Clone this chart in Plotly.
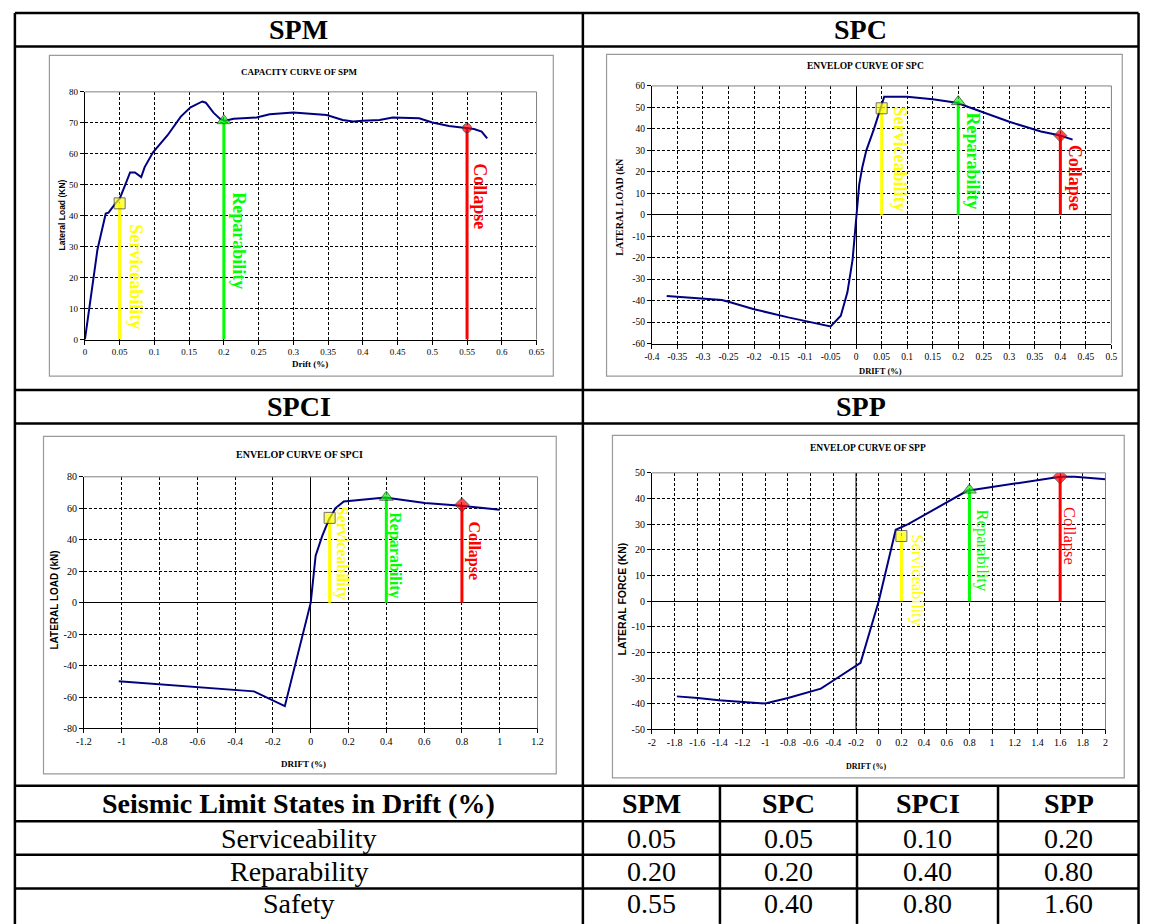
import plotly.graph_objects as go

W, H = 1149, 924


def px(x):
    return x / W


def py(y):
    return 1 - y / H


# ---------------- data ----------------
specimens = ["SPM", "SPC", "SPCI", "SPP"]
limit_states = ["Serviceability", "Reparability", "Safety"]
serviceability = [0.05, 0.05, 0.10, 0.20]
reparability = [0.20, 0.20, 0.40, 0.80]
safety = [0.55, 0.40, 0.80, 1.60]

spm_drift = [0, 0.006, 0.012, 0.018, 0.03, 0.034, 0.044, 0.05, 0.058, 0.065, 0.072, 0.081,
             0.086, 0.098, 0.119, 0.138, 0.152, 0.169, 0.174, 0.185, 0.195, 0.202, 0.214,
             0.247, 0.266, 0.294, 0.3, 0.348, 0.371, 0.386, 0.4, 0.424, 0.443, 0.481, 0.5,
             0.524, 0.547, 0.56, 0.571, 0.579]
spm_load = [0, 9.6, 20, 29, 40.7, 41, 44, 45.5, 50, 54, 54, 52.5,
            55.7, 60.5, 66, 72, 75, 76.9, 76.5, 73.3, 71.2, 70.7, 71.3,
            71.7, 72.8, 73.3, 73.3, 72.5, 70.9, 70.4, 70.7, 70.9, 71.7, 71.5, 70.1,
            69, 68.5, 68, 67.2, 65]
spm_limit_load = [44, 70.7, 68.3]

spc_drift = [-0.371, -0.3, -0.263, -0.25, -0.2, -0.133, -0.07, -0.05, -0.03, -0.017, -0.007,
             0, 0.006, 0.012, 0.02, 0.035, 0.047, 0.055, 0.1, 0.15, 0.197, 0.236, 0.3, 0.362,
             0.4, 0.424]
spc_load = [-37.8, -39, -39.7, -40.5, -44, -47.8, -51, -52, -47, -36, -21,
            -1, 14, 22, 30, 40, 49.5, 55, 55, 53.8, 52.2, 48.7, 43.3, 38.8,
            36.9, 35]
spc_limit_load = [49.6, 52.7, 36.9]

spci_drift = [-1.016, -0.3, -0.137, 0, 0.026, 0.061, 0.096, 0.131, 0.175, 0.254, 0.394,
              0.604, 0.796, 1.0]
spci_load = [-50, -56.4, -65.8, 0, 29.9, 42.4, 52.8, 60, 64.3, 65.3, 66.8,
             63.3, 61.6, 59]
spci_limit_load = [53.9, 67, 62.2]

spp_drift = [-1.78, -1.595, -1.41, -1.21, -1.0, -0.8, -0.6, -0.51, -0.4, -0.16, 0, 0.15,
             0.26, 0.78, 0.84, 1.18, 1.44, 1.6, 1.73, 2.0]
spp_load = [-37.1, -37.7, -38.6, -39.3, -39.9, -37.7, -35.4, -34.1, -30.9, -24, 0, 27.8,
            30, 43, 43.4, 45.6, 47.5, 48.5, 48.5, 47.5]
spp_limit_load = [25.4, 43.3, 48.5]

spm_xticks = [0, 0.05, 0.1, 0.15, 0.2, 0.25, 0.3, 0.35, 0.4, 0.45, 0.5, 0.55, 0.6, 0.65]
spm_yticks = [0, 10, 20, 30, 40, 50, 60, 70, 80]
spc_xticks = [-0.4, -0.35, -0.3, -0.25, -0.2, -0.15, -0.1, -0.05, 0, 0.05, 0.1, 0.15,
              0.2, 0.25, 0.3, 0.35, 0.4, 0.45, 0.5]
spc_yticks = [-60, -50, -40, -30, -20, -10, 0, 10, 20, 30, 40, 50, 60]
spci_xticks = [-1.2, -1, -0.8, -0.6, -0.4, -0.2, 0, 0.2, 0.4, 0.6, 0.8, 1, 1.2]
spci_yticks = [-80, -60, -40, -20, 0, 20, 40, 60, 80]
spp_xticks = [-2, -1.8, -1.6, -1.4, -1.2, -1, -0.8, -0.6, -0.4, -0.2, 0, 0.2, 0.4, 0.6,
              0.8, 1, 1.2, 1.4, 1.6, 1.8, 2]
spp_yticks = [-50, -40, -30, -20, -10, 0, 10, 20, 30, 40, 50]

limit_labels = ["Serviceability", "Reparability", "Collapse"]
limit_colors = ["#FFFF00", "#00FF00", "#FF0000"]

SERIF = "Liberation Serif"
SANS = "Liberation Sans"


def fmt(v):
    return f"{v:g}"


charts = [
    dict(drift=spm_drift, load=spm_load, lim_load=spm_limit_load, idx=0,
         xt=spm_xticks, yt=spm_yticks, xbox=(78, 536), ybox=(87, 338),
         frame=(42, 50, 553, 375), zero=False, vline=None, fs=9,
         collapse_sym="circle", collapse_size=9,
         title="CAPACITY CURVE OF SPM", title_pos=(296, 67), title_fs=9,
         ytitle="Lateral Load (KN)", ytitle_pos=(55, 212), ytitle_font=(SANS, 8.5),
         xtitle="Drift (%)", xtitle_pos=(306, 363), xtitle_fs=9,
         lbl_pos=[(129, 274), (234, 238), (478, 193)], lbl_fs=18, lbl_bold=True),
    dict(drift=spc_drift, load=spc_load, lim_load=spc_limit_load, idx=1,
         xt=spc_xticks, yt=spc_yticks, xbox=(653, 1119), ybox=(81, 342),
         frame=(607, 49, 1130, 375), zero=True, vline=None, fs=9.5,
         collapse_sym="diamond", collapse_size=10,
         title="ENVELOP CURVE OF SPC", title_pos=(870, 61), title_fs=9.5,
         ytitle="LATERAL LOAD (kN", ytitle_pos=(621, 203), ytitle_font=(SERIF, 10),
         xtitle="DRIFT (%)", xtitle_pos=(885, 370), xtitle_fs=8.5,
         lbl_pos=[(905, 155), (979, 157), (1082, 174)], lbl_fs=18, lbl_bold=True),
    dict(drift=spci_drift, load=spci_load, lim_load=spci_limit_load, idx=2,
         xt=spci_xticks, yt=spci_yticks, xbox=(77, 537), ybox=(477, 732),
         frame=(36, 436, 556, 778), zero=True, vline=None, fs=10,
         collapse_sym="diamond", collapse_size=11,
         title="ENVELOP CURVE OF SPCI", title_pos=(296, 454), title_fs=10,
         ytitle="LATERAL LOAD (kN)", ytitle_pos=(47, 602), ytitle_font=(SANS, 10),
         xtitle="DRIFT (%)", xtitle_pos=(300, 768), xtitle_fs=9,
         lbl_pos=[(339, 554), (393, 556), (473, 552)], lbl_fs=16, lbl_bold=True),
    dict(drift=spp_drift, load=spp_load, lim_load=spp_limit_load, idx=3,
         xt=spp_xticks, yt=spp_yticks, xbox=(653, 1113), ybox=(473, 733),
         frame=(613, 435, 1132, 782), zero=False, vline=-0.2, fs=10,
         collapse_sym="diamond", collapse_size=11,
         title="ENVELOP CURVE OF SPP", title_pos=(872, 448), title_fs=9.5,
         ytitle="LATERAL FORCE (KN)", ytitle_pos=(623, 601), ytitle_font=(SANS, 10.5),
         xtitle="DRIFT (%)", xtitle_pos=(870, 771), xtitle_fs=8,
         lbl_pos=[(922, 582), (988, 552), (1077, 537)], lbl_fs=16.5, lbl_bold=False),
]

fig = go.Figure()
shapes = []
annotations = []
layout_axes = {}

for i, c in enumerate(charts):
    n = "" if i == 0 else str(i + 1)
    xa, ya = "x" + n, "y" + n
    k = c["idx"]
    drifts = [serviceability[k], reparability[k], safety[k]]

    # frame of the Excel chart
    fx0, fy0, fx1, fy1 = c["frame"]
    shapes.append(dict(type="rect", xref="paper", yref="paper",
                       x0=px(fx0), x1=px(fx1), y0=py(fy1), y1=py(fy0),
                       fillcolor="white", line=dict(color="#9a9a9a", width=1.2),
                       layer="below"))
    # plot area border (gray) top/right
    x0p, x1p = px(c["xbox"][0]), px(c["xbox"][1])
    y0p, y1p = py(c["ybox"][1]), py(c["ybox"][0])
    shapes.append(dict(type="line", xref="paper", yref="paper", x0=x0p, x1=x1p,
                       y0=y1p, y1=y1p, line=dict(color="#808080", width=1), layer="above"))
    shapes.append(dict(type="line", xref="paper", yref="paper", x0=x1p, x1=x1p,
                       y0=y0p, y1=y1p, line=dict(color="#808080", width=1), layer="above"))

    # limit-state vertical lines
    for d, ld, col in zip(drifts, c["lim_load"], limit_colors):
        fig.add_trace(go.Scatter(x=[d, d], y=[0, ld], mode="lines",
                                 line=dict(color=col, width=3),
                                 xaxis=xa, yaxis=ya, showlegend=False, hoverinfo="skip"))
    if c["vline"] is not None:
        # Excel vertical axis crossing position
        yr = [c["yt"][0], c["yt"][-1]]
        fig.add_trace(go.Scatter(x=[c["vline"], c["vline"]], y=yr, mode="lines",
                                 line=dict(color="black", width=1),
                                 xaxis=xa, yaxis=ya, showlegend=False, hoverinfo="skip"))
    # curve
    fig.add_trace(go.Scatter(x=c["drift"], y=c["load"], mode="lines",
                             line=dict(color="#000080", width=2),
                             xaxis=xa, yaxis=ya, showlegend=False))
    # markers
    fig.add_trace(go.Scatter(x=drifts, y=c["lim_load"], mode="markers",
                             marker=dict(symbol=["square", "triangle-up", c["collapse_sym"]],
                                         color=limit_colors,
                                         size=[11, 12, c["collapse_size"]],
                                         line=dict(color="#333333", width=1)),
                             xaxis=xa, yaxis=ya, showlegend=False))

    common = dict(showgrid=True, gridcolor="black", gridwidth=1, griddash="3px,2px",
                  showline=True, linecolor="black", linewidth=1,
                  ticks="outside", ticklen=4, tickcolor="black", tickwidth=1,
                  tickfont=dict(family=SERIF, size=c["fs"], color="black"),
                  fixedrange=True, tickmode="array")
    layout_axes["xaxis" + n] = dict(
        common, domain=[x0p, x1p],
        range=[c["xt"][0], c["xt"][-1]], tickvals=c["xt"],
        ticktext=[fmt(v) for v in c["xt"]], anchor=ya,
        zeroline=c["zero"], zerolinecolor="black", zerolinewidth=1)
    layout_axes["yaxis" + n] = dict(
        common, domain=[y0p, y1p],
        range=[c["yt"][0], c["yt"][-1]], tickvals=c["yt"],
        ticktext=[fmt(v) for v in c["yt"]], anchor=xa,
        zeroline=(c["zero"] or c["vline"] is not None), zerolinecolor="black",
        zerolinewidth=1)

    # texts
    annotations.append(dict(text="<b>%s</b>" % c["title"], xref="paper", yref="paper",
                            x=px(c["title_pos"][0]), y=py(c["title_pos"][1]),
                            showarrow=False, xanchor="center", yanchor="middle",
                            font=dict(family=SERIF, size=c["title_fs"], color="black")))
    annotations.append(dict(text="<b>%s</b>" % c["ytitle"], xref="paper", yref="paper",
                            x=px(c["ytitle_pos"][0]), y=py(c["ytitle_pos"][1]),
                            showarrow=False, xanchor="center", yanchor="middle",
                            textangle=-90,
                            font=dict(family=c["ytitle_font"][0], size=c["ytitle_font"][1],
                                      color="black")))
    annotations.append(dict(text="<b>%s</b>" % c["xtitle"], xref="paper", yref="paper",
                            x=px(c["xtitle_pos"][0]), y=py(c["xtitle_pos"][1]),
                            showarrow=False, xanchor="center", yanchor="middle",
                            font=dict(family=SERIF, size=c["xtitle_fs"], color="black")))
    for lbl, col, (lx, ly) in zip(limit_labels, limit_colors, c["lbl_pos"]):
        t = "<b>%s</b>" % lbl if c["lbl_bold"] else lbl
        annotations.append(dict(text=t, xref="paper", yref="paper",
                                x=px(lx), y=py(ly), showarrow=False,
                                xanchor="center", yanchor="middle", textangle=90,
                                font=dict(family=SERIF, size=c["lbl_fs"], color=col)))

# ---------------- table frame ----------------
LW = 2.5
LEFT, RIGHT, TOP = 7, 1146.5, 7
hlines = [(TOP, LEFT, RIGHT), (41, LEFT, RIGHT), (389, LEFT, RIGHT), (423, LEFT, RIGHT),
          (790, LEFT, RIGHT), (826, LEFT, RIGHT), (860, LEFT, RIGHT), (894, LEFT, RIGHT)]
vlines = [(LEFT, TOP, 930), (583, TOP, 930), (RIGHT, TOP, 930),
          (722, 790, 930), (861, 790, 930), (1004, 790, 930)]
for yy, x0, x1 in hlines:
    shapes.append(dict(type="line", xref="paper", yref="paper", x0=px(x0), x1=px(x1),
                       y0=py(yy), y1=py(yy), line=dict(color="black", width=LW),
                       layer="above"))
for xx, y0, y1 in vlines:
    shapes.append(dict(type="line", xref="paper", yref="paper", x0=px(xx), x1=px(xx),
                       y0=py(y0), y1=py(y1), line=dict(color="black", width=LW),
                       layer="above"))

header_pos = [(295, 24), (865, 24), (295, 406), (865, 406)]
for name, (hx, hy) in zip(specimens, header_pos):
    annotations.append(dict(text="<b>%s</b>" % name, xref="paper", yref="paper",
                            x=px(hx), y=py(hy), showarrow=False,
                            xanchor="center", yanchor="middle",
                            font=dict(family=SERIF, size=28, color="black")))

col_centers = [652.5, 791.5, 932.5, 1075.5]
row_centers = [843, 877, 909]
TFS = 28
annotations.append(dict(text="<b>Seismic Limit States in Drift (%)</b>", xref="paper",
                        yref="paper", x=px(295), y=py(808), showarrow=False,
                        xanchor="center", yanchor="middle",
                        font=dict(family=SERIF, size=TFS, color="black")))
for name, cx in zip(specimens, col_centers):
    annotations.append(dict(text="<b>%s</b>" % name, xref="paper", yref="paper",
                            x=px(cx), y=py(808), showarrow=False,
                            xanchor="center", yanchor="middle",
                            font=dict(family=SERIF, size=TFS, color="black")))
table_rows = [serviceability, reparability, safety]
for state, vals, ry in zip(limit_states, table_rows, row_centers):
    annotations.append(dict(text=state, xref="paper", yref="paper", x=px(295), y=py(ry),
                            showarrow=False, xanchor="center", yanchor="middle",
                            font=dict(family=SERIF, size=TFS, color="black")))
    for v, cx in zip(vals, col_centers):
        annotations.append(dict(text=f"{v:.2f}", xref="paper", yref="paper",
                                x=px(cx), y=py(ry), showarrow=False,
                                xanchor="center", yanchor="middle",
                                font=dict(family=SERIF, size=TFS, color="black")))

fig.update_layout(
    width=W, height=H, margin=dict(l=0, r=0, t=0, b=0),
    paper_bgcolor="white", plot_bgcolor="#c0c0c0",
    showlegend=False, shapes=shapes, annotations=annotations,
    **layout_axes,
)

fig.write_html("out.html", config={"displayModeBar": False},
               post_script="document.body.style.margin='0';document.body.style.overflow='hidden';")
